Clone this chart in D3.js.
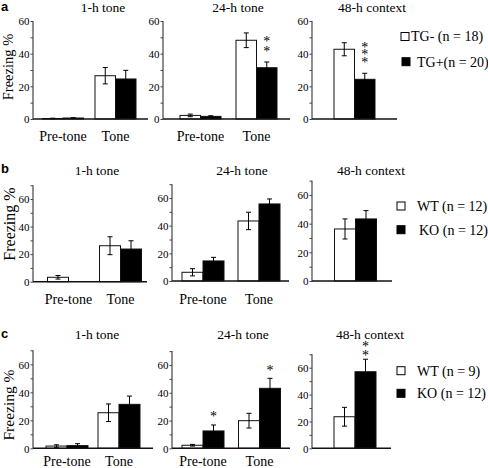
<!DOCTYPE html>
<html><head><meta charset="utf-8">
<script src="https://cdn.jsdelivr.net/npm/d3@7"></script>
<style>
body{margin:0;background:#fff;}
svg{display:block;}
</style></head>
<body>
<svg id="chart" width="488" height="468" font-family="Liberation Serif"></svg>
<script>
// ---------- DATA ----------
const panelLetters = ["a", "b", "c"];
const conditions = ["1-h tone", "24-h tone", "48-h context"];
const groups = ["Pre-tone", "Tone"];
const contextGroup = ["Context"];
const yTickLabels = [0, 20, 40, 60];
const yLabel = "Freezing %";

const seriesA = ["TG- (n = 18)", "TG+(n = 20)"];
const seriesB = ["WT (n = 12)", "KO (n = 12)"];
const seriesC = ["WT (n = 9)", "KO (n = 12)"];

// means [group][series], errors [group][series]
const a1hMean = [[0.3, 0.6], [26.5, 24.5]];
const a1hErr  = [[0.2, 0.2], [5.0, 5.3]];
const a24hMean = [[2.2, 1.6], [48.2, 31.4]];
const a24hErr  = [[0.8, 0.4], [4.5, 3.5]];
const a48hMean = [[42.7, 24.3]];
const a48hErr  = [[4.0, 3.7]];

const b1hMean = [[3.2, 0.0], [26.1, 23.7]];
const b1hErr  = [[1.3, 0.0], [6.5, 6.0]];
const b24hMean = [[6.3, 14.5], [43.4, 55.7]];
const b24hErr  = [[2.6, 2.6], [6.3, 3.6]];
const b48hMean = [[36.3, 43.3]];
const b48hErr  = [[7.0, 5.8]];

const c1hMean = [[1.6, 1.9], [25.4, 31.4]];
const c1hErr  = [[0.9, 1.4], [6.3, 5.9]];
const c24hMean = [[2.2, 12.5], [19.9, 43.2]];
const c24hErr  = [[0.6, 4.3], [5.3, 7.2]];
const c48hMean = [[23.5, 57.0]];
const c48hErr  = [[7.0, 9.3]];

// significance marks: [condition index, group index, series index, count]
const aStars = [[1, 1, 1, 2], [2, 0, 1, 3]];
const bStars = [];
const cStars = [[1, 0, 1, 1], [1, 1, 1, 1], [2, 0, 1, 2]];

// ---------- LAYOUT ----------
const panelData = [
  {letter: panelLetters[0], series: seriesA, stars: aStars,
   means: [a1hMean, a24hMean, a48hMean], errs: [a1hErr, a24hErr, a48hErr]},
  {letter: panelLetters[1], series: seriesB, stars: bStars,
   means: [b1hMean, b24hMean, b48hMean], errs: [b1hErr, b24hErr, b48hErr]},
  {letter: panelLetters[2], series: seriesC, stars: cStars,
   means: [c1hMean, c24hMean, c48hMean], errs: [c1hErr, c24hErr, c48hErr]}
];

const layout = [
  {letterY: 11, titleY: 12, xLabY: 141, ymax: 60, bw: 20.5, ylab: {x: 13, y: 67, size: 14.5},
   legend: {sq: [[401, 36.5], [402, 61.7]], tx: [411, 417]},
   starGap: [0, 12, 13], starStep: [0, 10, 7.6],
   subs: [
    {ax: 33, end: 148, c: [63, 115.5], y0: 119, y60: 21, tx: 103},
    {ax: 163, end: 290, c: [200.5, 256.5], y0: 119, y60: 21, tx: 238},
    {ax: 312, end: 397, c: [354.5], y0: 119, y60: 21, tx: 372}]},
  {letterY: 173, titleY: 175, xLabY: 304, ymax: 70, bw: 21, ylab: {x: 14.5, y: 224, size: 16},
   legend: {sq: [[397, 206], [397, 229.7]], tx: [417, 419]},
   starGap: [0, 11, 11], starStep: [0, 9, 9],
   subs: [
    {ax: 33, end: 147, c: [68.5, 120.5], y0: 281.7, y60: 199, tx: 97},
    {ax: 172, end: 289, c: [203, 259], y0: 281, y60: 198, tx: 242},
    {ax: 312, end: 392, c: [355.5], y0: 281, y60: 195, tx: 371}]},
  {letterY: 338, titleY: 339, xLabY: 466, ymax: 70, bw: 21, ylab: {x: 14, y: 405, size: 15.5},
   legend: {sq: [[397, 370.7], [397, 393.3]], tx: [417, 417]},
   starGap: [0, 10, 6], starStep: [0, 9, 9],
   subs: [
    {ax: 33, end: 153, c: [67, 119], y0: 448.3, y60: 364.3, tx: 97},
    {ax: 172, end: 290, c: [203, 259.5], y0: 448.3, y60: 365, tx: 243},
    {ax: 312, end: 391, c: [355], y0: 448.3, y60: 367.7, tx: 370}]}
];

const fills = ["#fff", "#000"];
const SERIF = "Liberation Serif";
const SANS = "Liberation Sans";
const svg = d3.select("#chart");

function T(sel) { return sel.attr("font-family", SERIF).attr("fill", "#000"); }

panelData.forEach((pd, pi) => {
  const L = layout[pi];
  const g = svg.append("g").attr("font-family", SERIF);

  g.append("text").attr("x", 1).attr("y", L.letterY)
    .attr("font-family", SANS).attr("font-weight", "bold")
    .attr("font-size", 13).text(pd.letter);

  T(g.append("text"))
    .attr("transform", `translate(${L.ylab.x},${L.ylab.y}) rotate(-90)`)
    .attr("text-anchor", "middle").attr("font-size", L.ylab.size).text(yLabel);

  conditions.forEach((cond, ci) => {
    const S = L.subs[ci];
    const grp = ci === 2 ? contextGroup : groups;
    const y = d3.scaleLinear().domain([0, 60]).range([S.y0, S.y60]);
    const x = d3.scalePoint().domain(grp)
      .range(grp.length > 1 ? [S.c[0], S.c[1]] : [S.c[0], S.c[0]]);
    const xs = d3.scaleBand().domain([0, 1]).range([-L.bw, L.bw]);

    // title
    T(g.append("text")).attr("x", S.tx).attr("y", L.titleY).attr("text-anchor", "middle")
      .attr("font-size", 13.5).text(cond);

    // y axis
    const ticks = d3.range(0, L.ymax + 1, 10);
    const axis = d3.axisLeft(y).tickValues(ticks).tickSize(2.5).tickSizeOuter(0)
      .tickFormat(d => yTickLabels.includes(d) ? d : "");
    const ag = g.append("g").attr("transform", `translate(${S.ax},0)`).call(axis);
    ag.attr("font-family", SERIF).attr("font-size", 11);
    ag.select(".domain").attr("stroke", "#444").attr("stroke-width", 1.2)
      .attr("d", `M0,${y(0)}V${y(L.ymax)}`);
    ag.selectAll(".tick line").attr("stroke", "#444");
    T(ag.selectAll(".tick text"))
      .attr("font-size", 11).attr("x", -3.5).attr("dy", "0.34em");

    // bars
    const rows = [];
    grp.forEach((gn, gi) => {
      pd.series.forEach((sn, si) => {
        rows.push({g: gn, gi, si, v: pd.means[ci][gi][si], e: pd.errs[ci][gi][si]});
      });
    });
    g.selectAll(null).data(rows).join("rect")
      .attr("x", d => x(d.g) + xs(d.si))
      .attr("y", d => y(d.v))
      .attr("width", xs.bandwidth())
      .attr("height", d => y(0) - y(d.v))
      .attr("fill", d => fills[d.si])
      .attr("stroke", d => d.v > 0 ? "#111" : "none").attr("stroke-width", 1);

    // error bars
    const eb = rows.filter(d => d.e > 0);
    const cx = d => x(d.g) + xs(d.si) + xs.bandwidth() / 2;
    g.selectAll(null).data(eb).join("path")
      .attr("d", d => {
        const t = y(d.v + d.e), b = y(Math.max(0, d.v - d.e)), c = cx(d);
        return `M${c - 2.5},${t}H${c + 2.5}M${c},${t}V${b}M${c - 2.5},${b}H${c + 2.5}`;
      })
      .attr("stroke", "#000").attr("stroke-width", 1).attr("fill", "none");

    // baseline
    g.append("line").attr("x1", S.ax).attr("x2", S.end).attr("y1", y(0)).attr("y2", y(0))
      .attr("stroke", "#111").attr("stroke-width", 1.5);

    // x labels
    if (ci < 2) {
      T(g.selectAll(null).data(grp).join("text"))
        .attr("x", d => x(d)).attr("y", L.xLabY).attr("text-anchor", "middle")
        .attr("font-size", 14).text(d => d);
    }

    // stars
    pd.stars.filter(s => s[0] === ci).forEach(s => {
      const gn = grp[s[1]];
      const d = {g: gn, si: s[2]};
      const top = y(pd.means[ci][s[1]][s[2]] + pd.errs[ci][s[1]][s[2]]);
      for (let k = 0; k < s[3]; k++) {
        const cy = top - L.starGap[ci] - k * L.starStep[ci];
        T(g.append("text")).attr("x", cx(d)).attr("y", cy + 6.5).attr("text-anchor", "middle")
          .attr("font-size", 14).text("*");
      }
    });
  });

  // legend
  pd.series.forEach((sn, si) => {
    const [sx, sy] = L.legend.sq[si];
    g.append("rect").attr("x", sx).attr("y", sy - 4).attr("width", 8).attr("height", 8)
      .attr("fill", fills[si]).attr("stroke", "#000").attr("stroke-width", 1);
    T(g.append("text")).attr("x", L.legend.tx[si]).attr("y", sy + 4.8)
      .attr("font-size", 14).text(sn);
  });
});
</script>
</body></html>
